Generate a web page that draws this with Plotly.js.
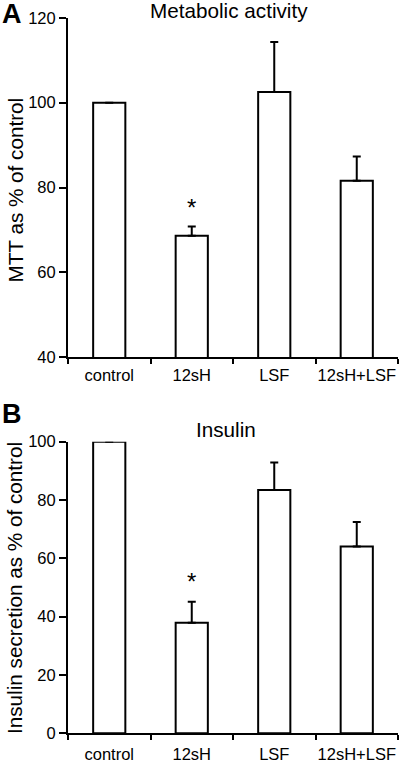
<!DOCTYPE html>
<html>
<head>
<meta charset="utf-8">
<script src="https://cdn.plot.ly/plotly-3.0.1.min.js"></script>
<style>
  html, body { margin: 0; padding: 0; background: #fff; }
  #chart { width: 400px; height: 763px; }
</style>
</head>
<body>
<div id="chart"></div>
<script>
// ---- data ----
const categories = ['control', '12sH', 'LSF', '12sH+LSF'];
const mttValues = [100, 68.6, 102.5, 81.6];
const mttErrors = [0, 2.2, 11.8, 5.7];
const insulinValues = [100, 37.9, 83.4, 64.1];
const insulinErrors = [0, 7.2, 9.5, 8.4];
const significant = [false, true, false, false];
const mttTicks = [40, 60, 80, 100, 120];
const insulinTicks = [0, 20, 40, 60, 80, 100];
const titleA = 'Metabolic activity';
const titleB = 'Insulin';
const yTitleA = 'MTT as % of control';
const yTitleB = 'Insulin secretion as % of control';

// ---- layout helpers (pixel positions) ----
const W = 400, H = 763, ML = 68, MR = 2;
const PW = W - ML - MR;
const px = x => (x - ML) / PW;
const py = y => (H - y) / H;
const FONT = 'Liberation Sans, Arial, Helvetica, sans-serif';

function barTrace(vals, errs, xa, ya, clip) {
  return {
    type: 'bar', x: categories, y: vals, xaxis: xa, yaxis: ya,
    width: 0.39,
    marker: { color: '#ffffff', line: { color: '#000000', width: 2 } },
    error_y: { type: 'data', symmetric: false, array: errs, arrayminus: errs.map(() => 0),
               color: '#000000', thickness: 2, width: 4 },
    cliponaxis: clip, hoverinfo: 'none', showlegend: false
  };
}

const axisCommon = {
  showline: true, linewidth: 2, linecolor: '#000', showgrid: false, zeroline: false,
  ticks: 'outside', tickcolor: '#000', tickwidth: 2,
  tickfont: { family: FONT, size: 16.5, color: '#000' }, fixedrange: true, automargin: false
};

const xCommon = Object.assign({}, axisCommon, {
  type: 'category', categoryorder: 'array', categoryarray: categories,
  range: [-0.5, 3.5], tickson: 'boundaries', ticklen: 5, tickangle: 0
});

const layout = {
  width: W, height: H,
  margin: { l: ML, r: MR, t: 0, b: 0, pad: 0 },
  paper_bgcolor: '#fff', plot_bgcolor: '#fff',
  font: { family: FONT, color: '#000' },
  showlegend: false,
  xaxis: Object.assign({}, xCommon, { anchor: 'y', domain: [0, 1], ticklabelstandoff: 2 }),
  yaxis: Object.assign({}, axisCommon, { anchor: 'x', domain: [py(357.1), py(17.9)],
          range: [40, 120], tickmode: 'array', tickvals: mttTicks, ticklen: 7 }),
  xaxis2: Object.assign({}, xCommon, { anchor: 'y2', domain: [0, 1], ticklabelstandoff: 5 }),
  yaxis2: Object.assign({}, axisCommon, { anchor: 'x2', domain: [py(733.3), py(441.7)],
          range: [0, 100], tickmode: 'array', tickvals: insulinTicks, ticklen: 7 }),
  annotations: []
};

function ann(text, x, y, size, opts) {
  return Object.assign({
    text: text, xref: 'paper', yref: 'paper', x: px(x), y: py(y),
    xanchor: 'center', yanchor: 'middle', showarrow: false,
    font: { family: FONT, size: size, color: '#000' }
  }, opts || {});
}

layout.annotations.push(ann('<b>A</b>', 12, 14, 27));
layout.annotations.push(ann('<b>B</b>', 12, 413.5, 27));
layout.annotations.push(ann(titleA, 229, 10.5, 20.7));
layout.annotations.push(ann(titleB, 225.5, 429.5, 20.7));
layout.annotations.push(ann(yTitleA, 14.5, 190, 20.7, { textangle: -90 }));
layout.annotations.push(ann(yTitleB, 14.5, 588.5, 20.7, { textangle: -90 }));

// significance asterisks above error bars
categories.forEach((c, i) => {
  if (!significant[i]) return;
  layout.annotations.push({
    text: '*', xref: 'x', yref: 'y', x: c, y: mttValues[i] + mttErrors[i],
    xanchor: 'center', yanchor: 'bottom', yshift: 4, showarrow: false,
    font: { family: FONT, size: 24, color: '#000' }
  });
  layout.annotations.push({
    text: '*', xref: 'x2', yref: 'y2', x: c, y: insulinValues[i] + insulinErrors[i],
    xanchor: 'center', yanchor: 'bottom', yshift: 5, showarrow: false,
    font: { family: FONT, size: 24, color: '#000' }
  });
});

const data = [
  barTrace(mttValues, mttErrors, 'x', 'y', true),
  barTrace(insulinValues, insulinErrors, 'x2', 'y2', false)
];

Plotly.newPlot('chart', data, layout, { displayModeBar: false, staticPlot: true });
</script>
</body>
</html>
